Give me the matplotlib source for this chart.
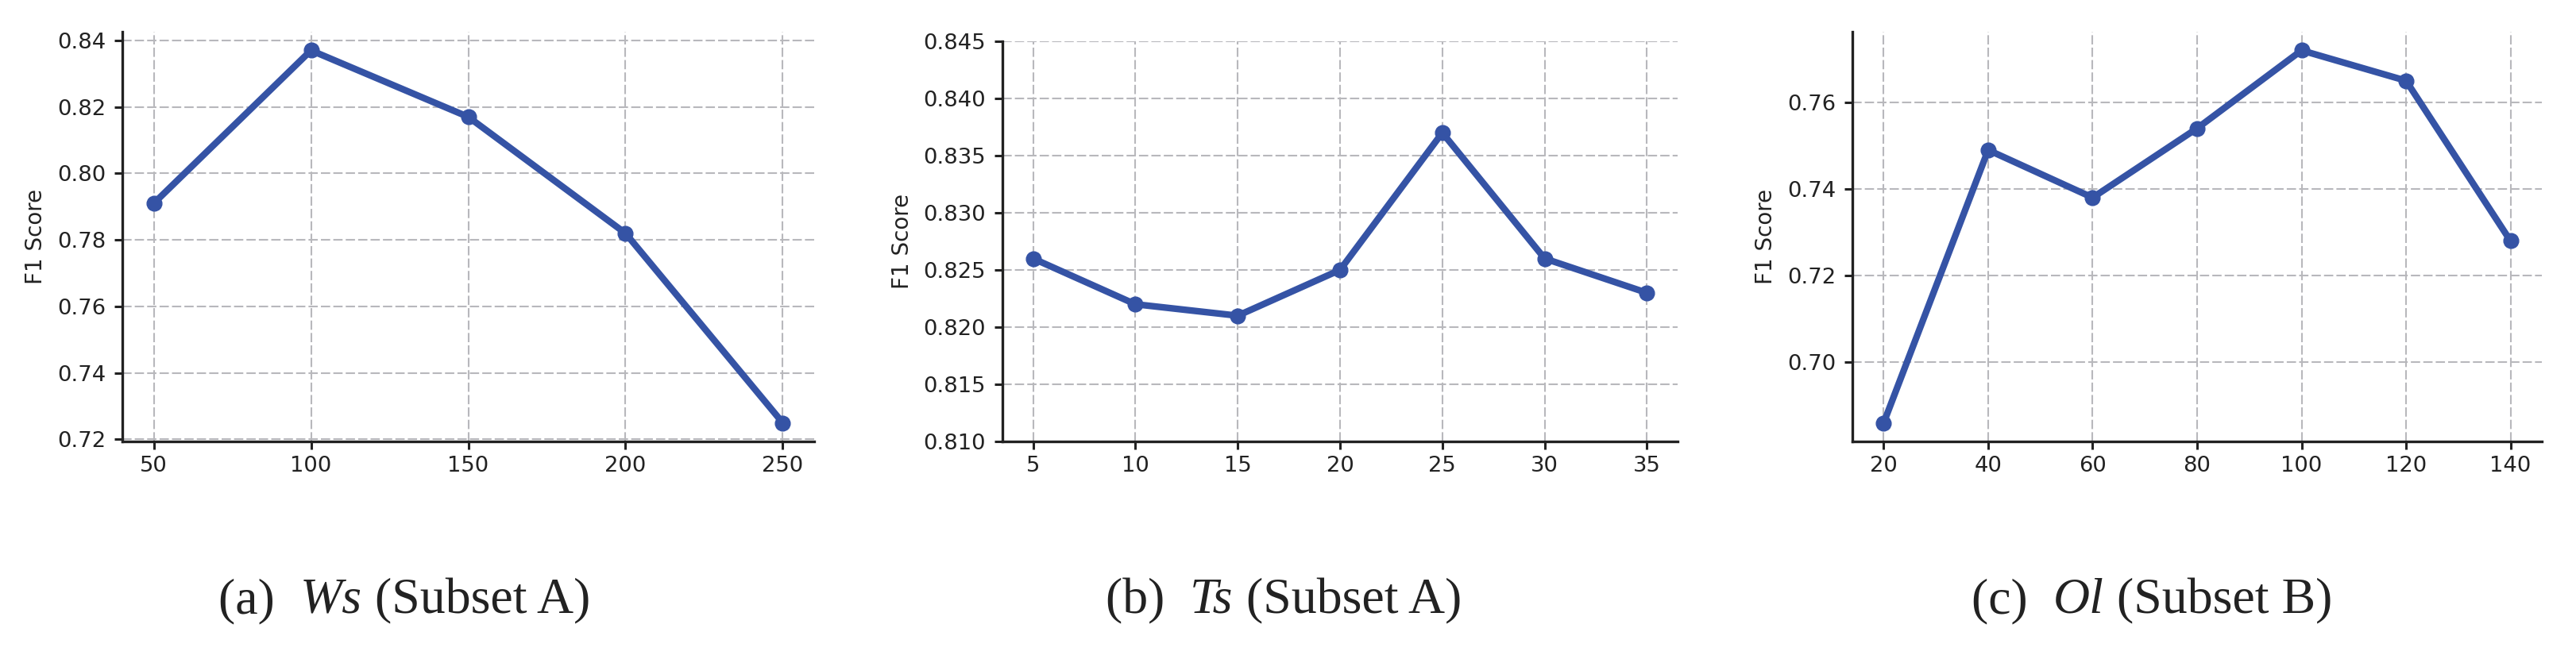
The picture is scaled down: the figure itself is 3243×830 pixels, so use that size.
import matplotlib
matplotlib.use("Agg")
import matplotlib.pyplot as plt

# ---- data ----
ws_x = [50, 100, 150, 200, 250]
ws_f1 = [0.791, 0.837, 0.817, 0.782, 0.725]

ts_x = [5, 10, 15, 20, 25, 30, 35]
ts_f1 = [0.826, 0.822, 0.821, 0.825, 0.837, 0.826, 0.823]

ol_x = [20, 40, 60, 80, 100, 120, 140]
ol_f1 = [0.686, 0.749, 0.738, 0.754, 0.772, 0.765, 0.728]

ws_yticks = [0.72, 0.74, 0.76, 0.78, 0.80, 0.82, 0.84]
ts_yticks = [0.810, 0.815, 0.820, 0.825, 0.830, 0.835, 0.840, 0.845]
ol_yticks = [0.70, 0.72, 0.74, 0.76]

captions = [("(a)  ", "Ws", " (Subset A)"),
            ("(b)  ", "Ts", " (Subset A)"),
            ("(c)  ", "Ol", " (Subset B)")]

W, H = 3243, 830
DPI = 100
fig = plt.figure(figsize=(W / DPI, H / DPI), dpi=DPI)

LINE_C = "#3553a5"
TXT_C = "#222222"
GRID_C = "#b8b8bc"

def px_axes(l, r, t, b):
    return [l / W, 1 - b / H, (r - l) / W, (b - t) / H]

boxes = [px_axes(154, 1025, 40, 556),
         px_axes(1262, 2112, 52, 556),
         px_axes(2332, 3200, 40, 556)]

series = [(ws_x, ws_f1, ws_yticks, None, "%.2f"),
          (ts_x, ts_f1, ts_yticks, (0.810, 0.845), "%.3f"),
          (ol_x, ol_f1, ol_yticks, None, "%.2f")]

for box, (xs, ys, yt, ylim, fmt) in zip(boxes, series):
    ax = fig.add_axes(box)
    ax.plot(xs, ys, color=LINE_C, linewidth=6.0, marker="o",
            markersize=13.5, markeredgewidth=1.0, zorder=3)
    ax.set_xticks(xs)
    ax.set_yticks(yt)
    ax.set_yticklabels([fmt % v for v in yt])
    if ylim is not None:
        ax.set_ylim(*ylim)
    ax.grid(True, color=GRID_C, linewidth=1.5, linestyle=(0, (5.6, 1.9)))
    for s in ("top", "right"):
        ax.spines[s].set_visible(False)
    for s in ("left", "bottom"):
        ax.spines[s].set_linewidth(2.4)
        ax.spines[s].set_color(TXT_C)
    ax.tick_params(axis="both", length=7, width=2.2, color=TXT_C,
                   labelsize=19.7, labelcolor=TXT_C)
    ax.tick_params(axis="y", pad=8)
    ax.tick_params(axis="x", pad=6)
    ax.set_ylabel("F1 Score", fontsize=20, color=TXT_C, labelpad=9)

# captions: upright / italic / upright pieces laid out side by side
cap_centers = [509, 1616, 2709]
cap_y = 1 - 757 / H
fig.canvas.draw()
renderer = fig.canvas.get_renderer()
for cx, (pre, it, post) in zip(cap_centers, captions):
    parts = [(pre, "normal"), (it, "italic"), (post, "normal")]
    texts = []
    for s, st in parts:
        t = fig.text(0, cap_y, s, ha="left", va="center", fontsize=46,
                     family="Liberation Serif", style=st, color=TXT_C)
        texts.append(t)
    widths = [t.get_window_extent(renderer).width for t in texts]
    x = cx - sum(widths) / 2
    for t, w in zip(texts, widths):
        t.set_x(x / W)
        x += w

fig.savefig("out.png", dpi=DPI, facecolor="white")
